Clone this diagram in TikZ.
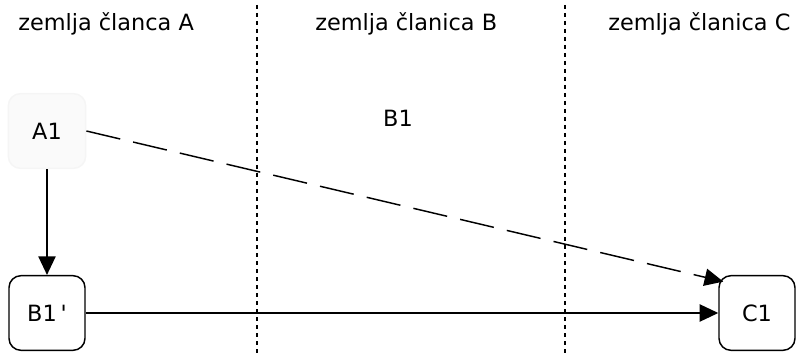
\documentclass[tikz,border=0pt]{standalone}
\usepackage{fontspec}
\setmainfont{DejaVu Sans}
\usetikzlibrary{arrows.meta,positioning}

\begin{document}
\begin{tikzpicture}[x=0.75pt,y=-0.75pt,
  font=\fontsize{16.8}{19}\selectfont,
  box/.style={draw,line width=1.1pt,rounded corners=9pt,
              minimum width=57pt,minimum height=56pt,inner sep=0pt},
  a/.style={-{Triangle[length=14pt,width=13pt]},line width=1.1pt},
  sep/.style={line width=1pt,dash pattern=on 3pt off 3pt}
]
\useasboundingbox (0,0) rectangle (799,356);
% borders between the columns
\draw[sep] (257,5) -- (257,356);
\draw[sep] (565,5) -- (565,356);
\node[anchor=west,inner sep=0pt] (hA) at (18,24) {zemlja članca A};
\node[anchor=west,inner sep=0pt] (hB) at (315,24) {zemlja članica B};
\node[anchor=west,inner sep=0pt] (hC) at (608,24) {zemlja članica C};
\node[box,draw=black!4,fill=black!2,minimum width=58pt] (A1) at (47,131) {A1};
\node (B1) at (398,118) {B1};
\node[box] (B1p) at (47,313) {B1\,\textquotesingle};
\node[box] (C1) at (757,313) {C1};
\draw[a] (A1) -- (B1p);
\draw[a,dash pattern=on 26pt off 10pt]
  (A1.east) -- ([xshift=3.75pt,yshift=-5pt]C1.north west);
\draw[a] (B1p) -- (C1);
\end{tikzpicture}
\end{document}
